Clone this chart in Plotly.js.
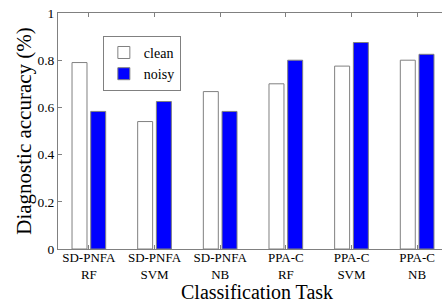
<!DOCTYPE html>
<html>
<head>
<meta charset="utf-8">
<script src="https://cdn.plot.ly/plotly-3.0.1.min.js"></script>
<style>html,body{margin:0;padding:0;overflow:hidden;background:#fff;width:442px;height:304px;}</style>
</head>
<body>
<div id="chart"></div>
<script>
const tasks = ["SD-PNFA<br>RF", "SD-PNFA<br>SVM", "SD-PNFA<br>NB", "PPA-C<br>RF", "PPA-C<br>SVM", "PPA-C<br>NB"];
const clean = [0.79, 0.54, 0.667, 0.70, 0.775, 0.80];
const noisy = [0.583, 0.625, 0.583, 0.80, 0.875, 0.825];

const idx = tasks.map((_, i) => i);
const font = "Liberation Serif";
const grey = "#808080";

const traces = [
  {type: "bar", name: "clean", x: idx, y: clean,
   marker: {color: "#ffffff", line: {color: grey, width: 1}}},
  {type: "bar", name: "noisy", x: idx, y: noisy,
   marker: {color: "#0000ff", line: {color: grey, width: 1}}}
];

const layout = {
  width: 450, height: 304,
  margin: {l: 58, r: 2, t: 13, b: 55},
  paper_bgcolor: "#ffffff", plot_bgcolor: "#ffffff",
  font: {family: font, size: 13.5, color: "#000"},
  barmode: "group", bargap: 0.43, bargroupgap: 0.2,
  showlegend: true,
  legend: {x: 0.115, y: 0.903, xanchor: "left", yanchor: "top",
           bgcolor: "#ffffff", bordercolor: grey, borderwidth: 1,
           font: {family: font, size: 14, color: "#000"},
           tracegroupgap: 0, itemwidth: 30},
  xaxis: {range: [-0.47, 5.47], tickmode: "array", tickvals: idx, ticktext: tasks,
          showline: true, linecolor: grey, linewidth: 1, mirror: "ticks",
          ticks: "inside", ticklen: 4, tickcolor: grey, showgrid: false, zeroline: false,
          ticklabelstandoff: -4,
          tickfont: {family: font, size: 13}},
  yaxis: {range: [0, 1], tickvals: [0, 0.2, 0.4, 0.6, 0.8, 1], ticktext: ["0", "0.2", "0.4", "0.6", "0.8", "1"],
          showline: true, linecolor: grey, linewidth: 1, mirror: "ticks",
          ticks: "inside", ticklen: 4, tickcolor: grey, showgrid: false, zeroline: false,
          tickfont: {family: font, size: 13.5},
          title: {text: "Diagnostic accuracy (%)", font: {family: font, size: 21}, standoff: 0}},
  annotations: [{text: "Classification Task", xref: "paper", yref: "paper",
                 x: 0.51, y: -(304 - 249 + 1) / 236, xanchor: "center", yanchor: "bottom",
                 showarrow: false, font: {family: font, size: 20, color: "#000"}}]
};

Plotly.newPlot("chart", traces, layout, {displayModeBar: false, staticPlot: true});
</script>
</body>
</html>
